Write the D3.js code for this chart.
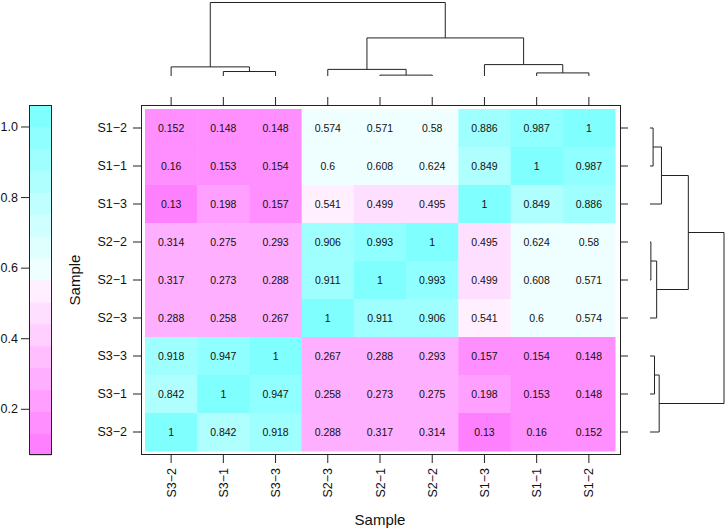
<!DOCTYPE html>
<html>
<head>
<meta charset="utf-8">
<script src="https://cdn.jsdelivr.net/npm/d3@7"></script>
<style>
  body { margin: 0; background: #fff; }
  svg { font-family: "Liberation Sans", Arial, sans-serif; }
</style>
</head>
<body>
<div id="chart"></div>
<script>
// column order (left to right) and row order (top to bottom), as the dendrograms sort them
var colLabels = ["S3−2", "S3−1", "S3−3", "S2−3", "S2−1", "S2−2", "S1−3", "S1−1", "S1−2"];
var rowLabels = ["S1−2", "S1−1", "S1−3", "S2−2", "S2−1", "S2−3", "S3−3", "S3−1", "S3−2"];

// correlation values, one row per rowLabels entry
var values = [
  [0.152, 0.148, 0.148, 0.574, 0.571, 0.58,  0.886, 0.987, 1],
  [0.16,  0.153, 0.154, 0.6,   0.608, 0.624, 0.849, 1,     0.987],
  [0.13,  0.198, 0.157, 0.541, 0.499, 0.495, 1,     0.849, 0.886],
  [0.314, 0.275, 0.293, 0.906, 0.993, 1,     0.495, 0.624, 0.58],
  [0.317, 0.273, 0.288, 0.911, 1,     0.993, 0.499, 0.608, 0.571],
  [0.288, 0.258, 0.267, 1,     0.911, 0.906, 0.541, 0.6,   0.574],
  [0.918, 0.947, 1,     0.267, 0.288, 0.293, 0.157, 0.154, 0.148],
  [0.842, 1,     0.947, 0.258, 0.273, 0.275, 0.198, 0.153, 0.148],
  [1,     0.842, 0.918, 0.288, 0.317, 0.314, 0.13,  0.16,  0.152]
];

// hclust-like merges: a string is a leaf, a number is an earlier merge (1-based)
var merges = [
  ["S2−1", "S2−2"],
  ["S1−1", "S1−2"],
  ["S3−1", "S3−3"],
  ["S2−3", 1],
  ["S3−2", 3],
  ["S1−3", 2],
  [4, 6],
  [5, 7]
];
var mergeHeights = [0.012, 0.042, 0.061, 0.09, 0.124, 0.155, 0.518, 1.0];

var keyTicks = [0.2, 0.4, 0.6, 0.8, 1.0];
var keyRange = [0.0691, 1.0609];
var nBands = 16;

var svg = d3.select("#chart").append("svg")
    .attr("width", 726)
    .attr("height", 530);

var x = d3.scaleBand().domain(colLabels).range([145, 615]);
var y = d3.scaleBand().domain(rowLabels).range([109, 451]);

// cm.colors style palette, magenta (low) -> white -> cyan (high)
function bandColor(i) {
    var s;
    if (i < nBands / 2) {
        s = 0.5 - i * (0.5 / (nBands / 2));
        return d3.rgb(255, 255 * (1 - s), 255).toString();
    }
    s = (i - nBands / 2 + 1) * (0.5 / (nBands / 2));
    return d3.rgb(255 * (1 - s), 255, 255).toString();
}
var step = (keyRange[1] - keyRange[0]) / nBands;
function colorOf(v) {
    var i = Math.floor((v - keyRange[0]) / step);
    return bandColor(Math.max(0, Math.min(nBands - 1, i)));
}

// cells
var cells = [];
rowLabels.forEach(function (r, ri) {
    colLabels.forEach(function (c, ci) {
        cells.push({row: r, col: c, value: values[ri][ci]});
    });
});

svg.selectAll("rect.cell")
    .data(cells)
    .enter()
    .append("rect")
    .attr("class", "cell")
    .attr("x", function (d) { return x(d.col); })
    .attr("y", function (d) { return y(d.row); })
    .attr("width", x.bandwidth() + 0.5)
    .attr("height", y.bandwidth() + 0.5)
    .style("fill", function (d) { return colorOf(d.value); });

svg.selectAll("text.cellval")
    .data(cells)
    .enter()
    .append("text")
    .attr("class", "cellval")
    .attr("x", function (d) { return x(d.col) + x.bandwidth() / 2; })
    .attr("y", function (d) { return y(d.row) + y.bandwidth() / 2; })
    .attr("dy", "0.36em")
    .style("text-anchor", "middle")
    .style("font-size", "10.5px")
    .style("fill", "#111")
    .text(function (d) { return d.value; });

// panel border
svg.append("rect")
    .attr("x", 141.5).attr("y", 105.5)
    .attr("width", 479).attr("height", 349)
    .style("fill", "none").style("stroke", "#222").style("stroke-width", 1);

// axes
var axLeft = svg.append("g").attr("transform", "translate(141,0)")
    .call(d3.axisLeft(y).tickSize(8).tickPadding(6));
var axTop = svg.append("g").attr("transform", "translate(0,105)")
    .call(d3.axisTop(x).tickSize(8).tickFormat(""));
var axRight = svg.append("g").attr("transform", "translate(621,0)")
    .call(d3.axisRight(y).tickSize(7).tickFormat(""));
var axBottom = svg.append("g").attr("transform", "translate(0,455)")
    .call(d3.axisBottom(x).tickSize(8).tickFormat(""));

axBottom.selectAll(".tick").append("text")
    .attr("transform", "rotate(-90)")
    .attr("x", -13)
    .attr("y", 0)
    .attr("dy", "0.36em")
    .style("text-anchor", "end")
    .style("fill", "#111")
    .style("font-size", "12.5px")
    .text(function (d) { return d; });

[axLeft, axTop, axRight, axBottom].forEach(function (g) {
    g.select(".domain").remove();
    g.selectAll(".tick line").style("stroke", "#222");
});
axLeft.selectAll("text")
    .style("font-size", "12.5px")
    .style("font-family", "\"Liberation Sans\", Arial, sans-serif")
    .style("fill", "#111");

// axis titles
svg.append("text")
    .attr("x", 380).attr("y", 525)
    .style("text-anchor", "middle")
    .style("font-size", "15px")
    .style("fill", "#111")
    .text("Sample");
svg.append("text")
    .attr("transform", "translate(80,280) rotate(-90)")
    .style("text-anchor", "middle")
    .style("font-size", "15px")
    .style("fill", "#111")
    .text("Sample");

// colour key
var keyY = d3.scaleLinear().domain(keyRange).range([455, 105]);
svg.selectAll("rect.key")
    .data(d3.range(nBands))
    .enter()
    .append("rect")
    .attr("class", "key")
    .attr("x", 29.5)
    .attr("width", 22)
    .attr("y", function (i) { return keyY(keyRange[0] + (i + 1) * step); })
    .attr("height", function (i) { return keyY(keyRange[0] + i * step) - keyY(keyRange[0] + (i + 1) * step) + 0.5; })
    .style("fill", function (i) { return bandColor(i); });
svg.append("rect")
    .attr("x", 29.5).attr("y", 105.5)
    .attr("width", 22).attr("height", 349)
    .style("fill", "none").style("stroke", "#222");
var keyAxis = svg.append("g").attr("transform", "translate(29,0)")
    .call(d3.axisLeft(keyY).tickValues(keyTicks).tickSize(8).tickPadding(3)
        .tickFormat(d3.format(".1f")));
keyAxis.select(".domain").remove();
keyAxis.selectAll(".tick line").style("stroke", "#222");
keyAxis.selectAll("text")
    .style("font-size", "12.5px")
    .style("font-family", "\"Liberation Sans\", Arial, sans-serif")
    .style("fill", "#111");

// dendrograms
function drawDendro(posOf, hScale, horizontal) {
    var nodes = [];
    function pos(ref) {
        if (typeof ref === "string") return {p: posOf(ref), h: 0};
        return nodes[ref - 1];
    }
    var g = svg.append("g")
        .style("fill", "none")
        .style("stroke", "#222")
        .style("stroke-width", 1);
    merges.forEach(function (m, k) {
        var a = pos(m[0]), b = pos(m[1]);
        var h = mergeHeights[k];
        var path = d3.path();
        if (horizontal) {
            path.moveTo(a.p, hScale(a.h));
            path.lineTo(a.p, hScale(h));
            path.lineTo(b.p, hScale(h));
            path.lineTo(b.p, hScale(b.h));
        } else {
            path.moveTo(hScale(a.h), a.p);
            path.lineTo(hScale(h), a.p);
            path.lineTo(hScale(h), b.p);
            path.lineTo(hScale(b.h), b.p);
        }
        g.append("path").attr("d", path.toString());
        nodes.push({p: (a.p + b.p) / 2, h: h});
    });
}

drawDendro(function (l) { return x(l) + x.bandwidth() / 2; },
    d3.scaleLinear().domain([0, 1]).range([76, 2.5]), true);
drawDendro(function (l) { return y(l) + y.bandwidth() / 2; },
    d3.scaleLinear().domain([0, 1]).range([650, 724]), false);
</script>
</body>
</html>
